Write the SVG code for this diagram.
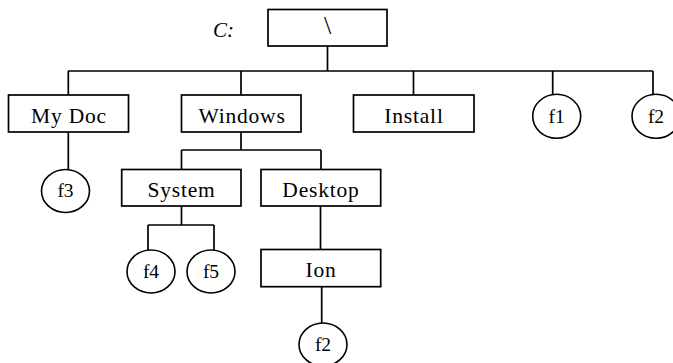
<svg xmlns="http://www.w3.org/2000/svg" width="673" height="363" viewBox="0 0 673 363">
<style>
.box{fill:#fff;stroke:#000;stroke-width:1.7}
.cir{fill:#fff;stroke:#000;stroke-width:1.6}
.lbl{font-family:"Liberation Serif","Times New Roman",serif;font-size:21.5px;letter-spacing:0.8px;text-anchor:middle;fill:#000}
.fl{font-family:"Liberation Serif","Times New Roman",serif;font-size:19.5px;text-anchor:middle;fill:#000}
#connectors path{fill:none;stroke:#000;stroke-width:1.7}
</style>
<rect width="673" height="363" fill="#fff"/>
<g id="connectors">
<path d="M327.5 46V71M68 71H653M68.3 71V95M241 71V95M413.5 71V95M552.7 71V94.5M653 71V94.5"/>
<path d="M68.3 132V170"/>
<path d="M241 132V150M181.5 150H321M181.5 150V169.5M321 150V169.5"/>
<path d="M181.5 206V225M148 225H214M148 225V250.5M214 225V250.5"/>
<path d="M320.5 206V249.5M321.7 287V323"/>
</g>
<text x="213" y="37" font-family="'Liberation Serif','Times New Roman',serif" font-size="21" font-style="italic">C:</text>
<g id="root"><rect class="box" x="268" y="9.5" width="119" height="36.5"/><text x="327.5" y="34" font-family="'Liberation Serif','Times New Roman',serif" font-size="26" text-anchor="middle">\</text></g>
<g id="mydoc"><rect class="box" x="8.5" y="95" width="120" height="37"/><text class="lbl" x="69" y="123">My Doc</text></g>
<g id="windows"><rect class="box" x="181.5" y="95" width="119.5" height="37"/><text class="lbl" x="242" y="123">Windows</text></g>
<g id="install"><rect class="box" x="353.5" y="95" width="120.5" height="37"/><text class="lbl" x="414" y="123">Install</text></g>
<g id="f1"><ellipse class="cir" cx="556.7" cy="116.3" rx="24" ry="22"/><text class="fl" x="556.7" y="122.5">f1</text></g>
<g id="f2top"><ellipse class="cir" cx="656" cy="116.3" rx="24" ry="22"/><text class="fl" x="656" y="122.5">f2</text></g>
<g id="f3"><ellipse class="cir" cx="65.5" cy="191" rx="24" ry="21.5"/><text class="fl" x="65.5" y="197">f3</text></g>
<g id="system"><rect class="box" x="121.7" y="169.5" width="119.3" height="36.5"/><text class="lbl" x="181.5" y="196.5">System</text></g>
<g id="desktop"><rect class="box" x="261" y="169.5" width="119.7" height="36.5"/><text class="lbl" x="321" y="196.5">Desktop</text></g>
<g id="f4"><ellipse class="cir" cx="151" cy="271.5" rx="24" ry="21.5"/><text class="fl" x="151" y="277.5">f4</text></g>
<g id="f5"><ellipse class="cir" cx="211" cy="271.5" rx="24" ry="21.5"/><text class="fl" x="211" y="277.5">f5</text></g>
<g id="ion"><rect class="box" x="261" y="249.5" width="119.7" height="37.2"/><text class="lbl" x="321" y="277">Ion</text></g>
<g id="f2bottom"><ellipse class="cir" cx="323" cy="344.5" rx="24" ry="21.5"/><text class="fl" x="323" y="350.5">f2</text></g>
</svg>
